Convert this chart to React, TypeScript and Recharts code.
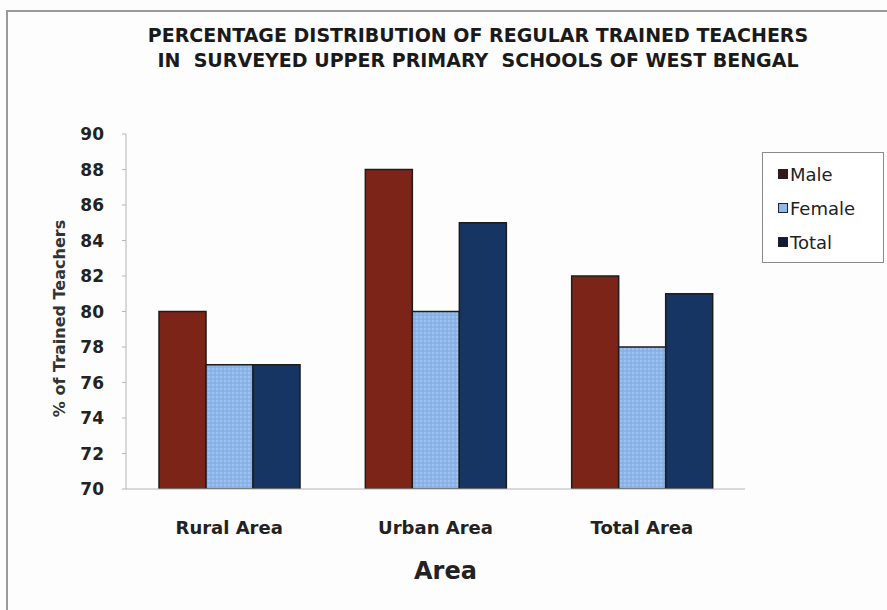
import React from "react";
import { BarChart, Bar, XAxis, YAxis } from "recharts";

const areas = ["Rural Area", "Urban Area", "Total Area"];
const maleValues = [80, 88, 82];
const femaleValues = [77, 80, 78];
const totalValues = [77, 85, 81];
const yTicks = [70, 72, 74, 76, 78, 80, 82, 84, 86, 88, 90];

const data = areas.map((area, i) => ({
  area,
  Male: maleValues[i],
  Female: femaleValues[i],
  Total: totalValues[i],
}));

const FONT = "'DejaVu Sans', 'Liberation Sans', Arial, sans-serif";

const legendItems = [
  { name: "Male", marker: "#3a1717" },
  { name: "Female", marker: "#8fb8ec" },
  { name: "Total", marker: "#101c33" },
];

// legend box sits outside the plot, so it is drawn as a plain div
const ChartLegend = () => (
  <div
    style={{
      position: "absolute",
      left: 762,
      top: 152,
      border: "1px solid #8a8a8a",
      background: "#fff",
      width: 122,
      height: 111,
      boxSizing: "border-box",
      paddingTop: 4,
      paddingLeft: 15,
      fontFamily: FONT,
      fontSize: 18,
      color: "#222",
    }}
  >
    {legendItems.map((it) => (
      <div
        key={it.name}
        style={{ display: "flex", alignItems: "center", height: 34 }}
      >
        <span
          style={{
            display: "inline-block",
            width: 8,
            height: 8,
            background: it.marker,
            border: "1px solid #222",
            marginRight: 2,
          }}
        />
        <span>{it.name}</span>
      </div>
    ))}
  </div>
);

const App: React.FC = () => (
  <div
    style={{
      position: "absolute",
      left: 0,
      top: 0,
      width: 887,
      height: 610,
      background: "#fdfdfd",
      overflow: "hidden",
    }}
  >
    <div
      style={{
        position: "absolute",
        left: 6,
        top: 10,
        width: 900,
        height: 620,
        borderTop: "2px solid #9a9a9a",
        borderLeft: "2px solid #9a9a9a",
      }}
    />
    <div
      style={{
        position: "absolute",
        left: 0,
        top: 23,
        width: 956,
        textAlign: "center",
        fontFamily: FONT,
        fontWeight: "bold",
        fontSize: 19,
        lineHeight: "25px",
        color: "#1a1a1a",
        whiteSpace: "pre",
      }}
    >
      {"PERCENTAGE DISTRIBUTION OF REGULAR TRAINED TEACHERS\nIN  SURVEYED UPPER PRIMARY  SCHOOLS OF WEST BENGAL"}
    </div>
    <BarChart
      width={887}
      height={610}
      data={data}
      margin={{ top: 134, right: 142, left: 0, bottom: 0 }}
      barCategoryGap="16%"
      barGap={0}
      style={{ position: "absolute", left: 0, top: 0 }}
    >
      <defs>
        <pattern
          id="femaleDots"
          width="4"
          height="4"
          patternUnits="userSpaceOnUse"
        >
          <rect width="4" height="4" fill="#8cb5ea" />
          <circle cx="1" cy="1" r="0.8" fill="#b6d1f4" />
          <circle cx="3" cy="3" r="0.6" fill="#6f9bd8" />
        </pattern>
      </defs>
      <XAxis
        dataKey="area"
        height={121}
        stroke="#b5b5b5"
        tickLine={false}
        tickMargin={26}
        tick={{
          fill: "#222",
          fontSize: 18,
          fontWeight: "bold",
          fontFamily: FONT,
        }}
        label={{
          value: "Area",
          position: "center",
          dy: 21,
          dx: 10,
          fill: "#222",
          fontSize: 24,
          fontWeight: "bold",
          fontFamily: FONT,
        }}
      />
      <YAxis
        width={126}
        domain={[70, 90]}
        ticks={yTicks}
        interval={0}
        allowDataOverflow
        stroke="#b5b5b5"
        tickSize={4}
        tickMargin={18}
        tick={{
          fill: "#222",
          fontSize: 17,
          fontWeight: "bold",
          fontFamily: FONT,
        }}
        label={{
          value: "% of Trained Teachers",
          angle: -90,
          position: "center",
          dx: -4,
          dy: 7,
          fill: "#333",
          fontSize: 16,
          fontWeight: "bold",
          fontFamily: FONT,
        }}
      />
      <Bar
        dataKey="Male"
        fill="#7d2419"
        stroke="#1c1c1c"
        strokeWidth={1.5}
        isAnimationActive={false}
      />
      <Bar
        dataKey="Female"
        fill="url(#femaleDots)"
        stroke="#1c1c1c"
        strokeWidth={1.5}
        isAnimationActive={false}
      />
      <Bar
        dataKey="Total"
        fill="#173563"
        stroke="#1c1c1c"
        strokeWidth={1.5}
        isAnimationActive={false}
      />
    </BarChart>
    <ChartLegend />
  </div>
);

export default App;
